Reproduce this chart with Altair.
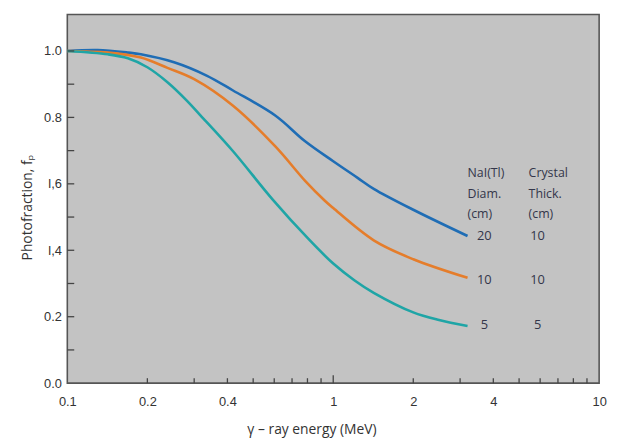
import altair as alt
import pandas as pd

# ---- data ----
series = ["20 x 10", "10 x 10", "5 x 5"]
colors = ["#1f6db5", "#e57d2b", "#1fa5a6"]

blue_E = [0.1, 0.13, 0.17, 0.189, 0.252, 0.334, 0.42, 0.607, 0.784, 1.0, 1.235, 1.42, 2.0, 3.2]
blue_v = [1.0, 1.003, 0.995, 0.99, 0.966, 0.926, 0.881, 0.805, 0.728, 0.668, 0.618, 0.585, 0.522, 0.443]

orange_E = [0.1, 0.142, 0.189, 0.238, 0.3, 0.42, 0.607, 0.784, 0.93, 1.0, 1.42, 2.0, 3.2]
orange_v = [1.0, 0.995, 0.98, 0.949, 0.915, 0.835, 0.712, 0.609, 0.549, 0.527, 0.43, 0.373, 0.317]

teal_E = [0.1, 0.142, 0.169, 0.2, 0.238, 0.282, 0.316, 0.42, 0.59, 0.807, 1.0, 1.2, 1.42, 2.0, 2.5, 3.2]
teal_v = [1.0, 0.99, 0.978, 0.951, 0.906, 0.85, 0.807, 0.698, 0.554, 0.434, 0.36, 0.31, 0.272, 0.213, 0.19, 0.172]

y_tick_values = [0.1, 0.2, 0.3, 0.4, 0.5, 0.6, 0.7, 0.8, 0.9, 1.0]
y_label_values = [0.0, 0.2, 0.4, 0.6, 0.8, 1.0]
y_label_texts = ["0.0", "0.2", "l,4", "l,6", "0.8", "1.0"]
x_tick_values = [0.2, 0.3, 0.4, 0.5, 0.6, 0.7, 0.8, 0.9, 2, 3, 4, 5, 6, 7, 8, 9]
x_major_tick = [1]
x_label_values = [0.1, 0.2, 0.4, 1, 2, 4, 10]

# annotation table
header_texts = ["NaI(Tl)", "Diam.", "(cm)", "Crystal", "Thick.", "(cm)"]
header_E = [3.2, 3.2, 3.2, 5.43, 5.43, 5.43]
header_v = [0.632, 0.57, 0.51, 0.632, 0.57, 0.51]
diam_texts = ["20", "10", "5"]
thick_texts = ["10", "10", "5"]
label_v = [0.443, 0.31, 0.175]
diam_E = 3.7
thick_E = 5.87

# ---- build tables ----
rows = []
for name, E, v in zip(series, [blue_E, orange_E, teal_E], [blue_v, orange_v, teal_v]):
    for e, val in zip(E, v):
        rows.append({"s": name, "E": e, "v": val})
lines_df = pd.DataFrame(rows)

yt_df = pd.DataFrame({"v": y_tick_values})
xt_df = pd.DataFrame({"E": x_tick_values})
xm_df = pd.DataFrame({"E": x_major_tick})
head_df = pd.DataFrame({"E": header_E, "v": header_v, "t": header_texts})
nums_df = pd.DataFrame({
    "E": [diam_E] * 3 + [thick_E] * 3,
    "v": label_v + label_v,
    "t": diam_texts + thick_texts,
})

W, H = 538, 373
xscale = alt.Scale(type="log", domain=[0.1, 10], nice=False)
yscale = alt.Scale(domain=[0, 1.11], nice=False, zero=False)

y_expr = "[" + ",".join(f"'{t}'" for t in y_label_texts) + "][round(datum.value*5)]"

x_axis = alt.Axis(
    values=x_label_values, format="~g", ticks=False, grid=False,
    domain=False, labelFont="Liberation Sans", labelFontSize=13, labelColor="#333333",
    labelPadding=13, title="γ – ray energy (MeV)", titleFont="Open Sans",
    titleFontSize=14, titleFontWeight="normal", titleColor="#333333",
    titleX=247, titleY=47, titleAnchor="middle", titleBaseline="middle", labelFlush=False,
)
y_axis = alt.Axis(
    values=y_label_values, labelExpr=y_expr, ticks=False, grid=False, domain=False,
    labelFont="Liberation Sans", labelFontSize=13, labelColor="#333333", labelPadding=6,
    title="Photofraction, fₚ", titleFont="Open Sans", titleFontSize=14,
    titleFontWeight="normal", titleColor="#333333", titleX=-40, titleY=195,
    titleAngle=270, titleAlign="center", titleBaseline="middle",
)

lines = alt.Chart(lines_df).mark_line(strokeWidth=2.6, interpolate="catmull-rom").encode(
    x=alt.X("E:Q", scale=xscale, axis=x_axis),
    y=alt.Y("v:Q", scale=yscale, axis=y_axis),
    color=alt.Color("s:N", scale=alt.Scale(domain=series, range=colors), legend=None),
    order=alt.Order("E:Q"),
)

ytk = alt.Chart(yt_df).mark_rule(color="#444444", strokeWidth=1.3).encode(
    y=alt.Y("v:Q", scale=yscale), x=alt.value(0), x2=alt.value(7)
)
xtk = alt.Chart(xt_df).mark_rule(color="#444444", strokeWidth=1.3).encode(
    x=alt.X("E:Q", scale=xscale), y=alt.value(H), y2=alt.value(H - 5)
)
xmk = alt.Chart(xm_df).mark_rule(color="#444444", strokeWidth=1.3).encode(
    x=alt.X("E:Q", scale=xscale), y=alt.value(H), y2=alt.value(H - 8)
)

heads = alt.Chart(head_df).mark_text(
    align="left", baseline="middle", font="Open Sans", fontSize=12.5, color="#33364a"
).encode(x=alt.X("E:Q", scale=xscale), y=alt.Y("v:Q", scale=yscale), text="t:N")

nums = alt.Chart(nums_df).mark_text(
    align="center", baseline="middle", font="Open Sans", fontSize=13, color="#33364a"
).encode(x=alt.X("E:Q", scale=xscale), y=alt.Y("v:Q", scale=yscale), text="t:N")

chart = alt.layer(lines, ytk, xtk, xmk, heads, nums).properties(
    width=W, height=H,
    autosize=alt.AutoSizeParams(type="none"),
    padding={"left": 60, "top": 4, "right": 12, "bottom": 54},
    background="white",
).configure_view(
    fill="#c3c3c3", stroke="#555555", strokeWidth=1.6
)

chart.save("out.html", embed_options={"renderer": "svg", "actions": False})
